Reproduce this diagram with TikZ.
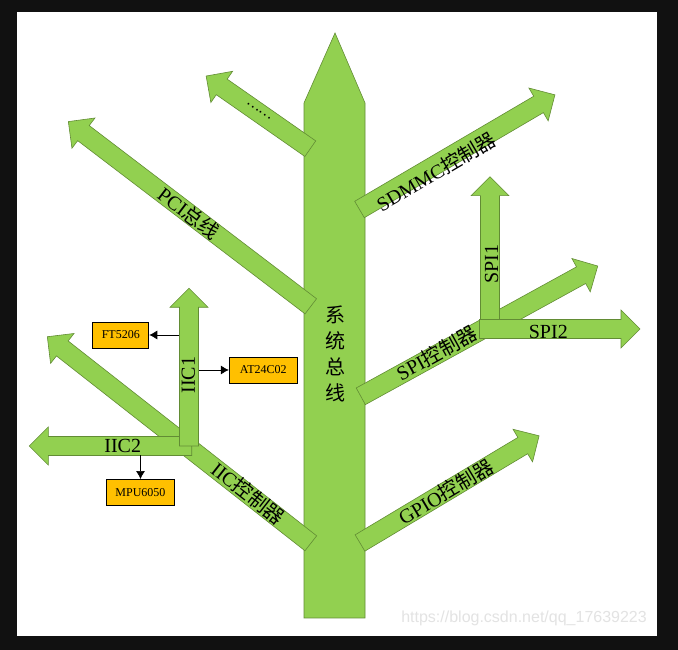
\documentclass[tikz,border=0pt]{standalone}
\usepackage{fontspec}
\setmainfont{Liberation Serif}
\newfontfamily\cjk{Noto Sans CJK SC}
\newfontfamily\wmfont{Liberation Sans}
\usetikzlibrary{arrows.meta}
\definecolor{leaf}{RGB}{146,208,80}
\definecolor{leafline}{RGB}{98,140,52}
\definecolor{chip}{RGB}{255,192,0}
\definecolor{frame}{RGB}{17,17,17}
% fat arrow: start point, angle, length
\newcommand{\branch}[3]{%
	\begin{scope}[shift={#1},rotate=#2]
		\draw[bus] (0,-9.5) -- (#3-19,-9.5) -- (#3-19,-19) -- (#3,0) -- (#3-19,19) -- (#3-19,9.5) -- (0,9.5) -- cycle;
	\end{scope}}
\begin{document}
\begin{tikzpicture}[x=1pt,y=1pt,
		bus/.style={fill=leaf,draw=leafline,line width=0.6pt},
		lab/.style={font=\fontsize{20}{24}\selectfont,inner sep=0pt},
		chipbox/.style={draw,fill=chip,line width=0.9pt,minimum width=68pt,minimum height=26pt,inner sep=0pt,font=\fontsize{12}{14}\selectfont},
		link/.style={-{Latex[length=8pt,width=9pt]},line width=0.7pt}]
		\fill[frame] (0,0) rectangle (678,650);
		\fill[white] (17,14) rectangle (657,638);
		% trunk
		\draw[bus] (304,32) -- (365,32) -- (365,547) -- (335,617) -- (304,547) -- cycle;
		% branches
		\branch{(310.3,501.3)}{145.1}{127}
		\branch{(310.8,343.7)}{142.7}{304.8}
		\branch{(359.5,440.5)}{30.4}{226.6}
		\branch{(360.8,253.7)}{28.8}{270.4}
		\branch{(490,330)}{90}{143.3}
		\branch{(479.5,321)}{0}{160.5}
		\branch{(360,107)}{30.9}{208.7}
		\branch{(310.8,106.7)}{141.9}{334.8}
		\branch{(191.7,204)}{180}{162.4}
		\branch{(189,204)}{90}{157.7}
		% labels
		\path (335,296) node(sys)[lab,align=center,font=\cjk\fontsize{20}{26}\selectfont]{系\\统\\总\\线}
		(259,539) node(more)[lab,rotate=-34.9,font=\cjk\fontsize{14}{16}\selectfont]{……}
		(189,437) node(pci)[lab,rotate=-37.3]{PCI{\cjk 总线}}
		(436,478) node(sdmmc)[lab,rotate=30.4]{SDMMC{\cjk 控制器}}
		(436.7,297) node(spi)[lab,rotate=28.8]{SPI{\cjk 控制器}}
		(491.7,386) node(spia)[lab,rotate=90]{SPI1}
		(548.3,318.3) node(spib)[lab]{SPI2}
		(445.8,158.3) node(gpio)[lab,rotate=30.9]{GPIO{\cjk 控制器}}
		(248.3,156.7) node(iic)[lab,rotate=-38.1]{IIC{\cjk 控制器}}
		(188.3,275) node(iica)[lab,rotate=90]{IIC1}
		(122.7,204.3) node(iicb)[lab]{IIC2};
		% devices
		\path (120.8,315) node(ft)[chipbox,minimum width=56pt]{FT5206}
		(263.3,280) node(eeprom)[chipbox]{AT24C02}
		(140.5,157.5) node(mpu)[chipbox]{MPU6050};
		\coordinate (ftout) at (179,315);
		\coordinate (eeout) at (199,280);
		\coordinate (mpuout) at (140.5,194.5);
		\draw[link] (ftout) -- (ft);
		\draw[link] (eeout) -- (eeprom);
		\draw[link] (mpuout) -- (mpu);
		\path (647,27) node(mark)[anchor=base east,inner sep=0pt,text=gray!22,font=\wmfont\fontsize{16}{18}\selectfont]{https://blog.csdn.net/qq\_17639223};
	\end{tikzpicture}
\end{document}
